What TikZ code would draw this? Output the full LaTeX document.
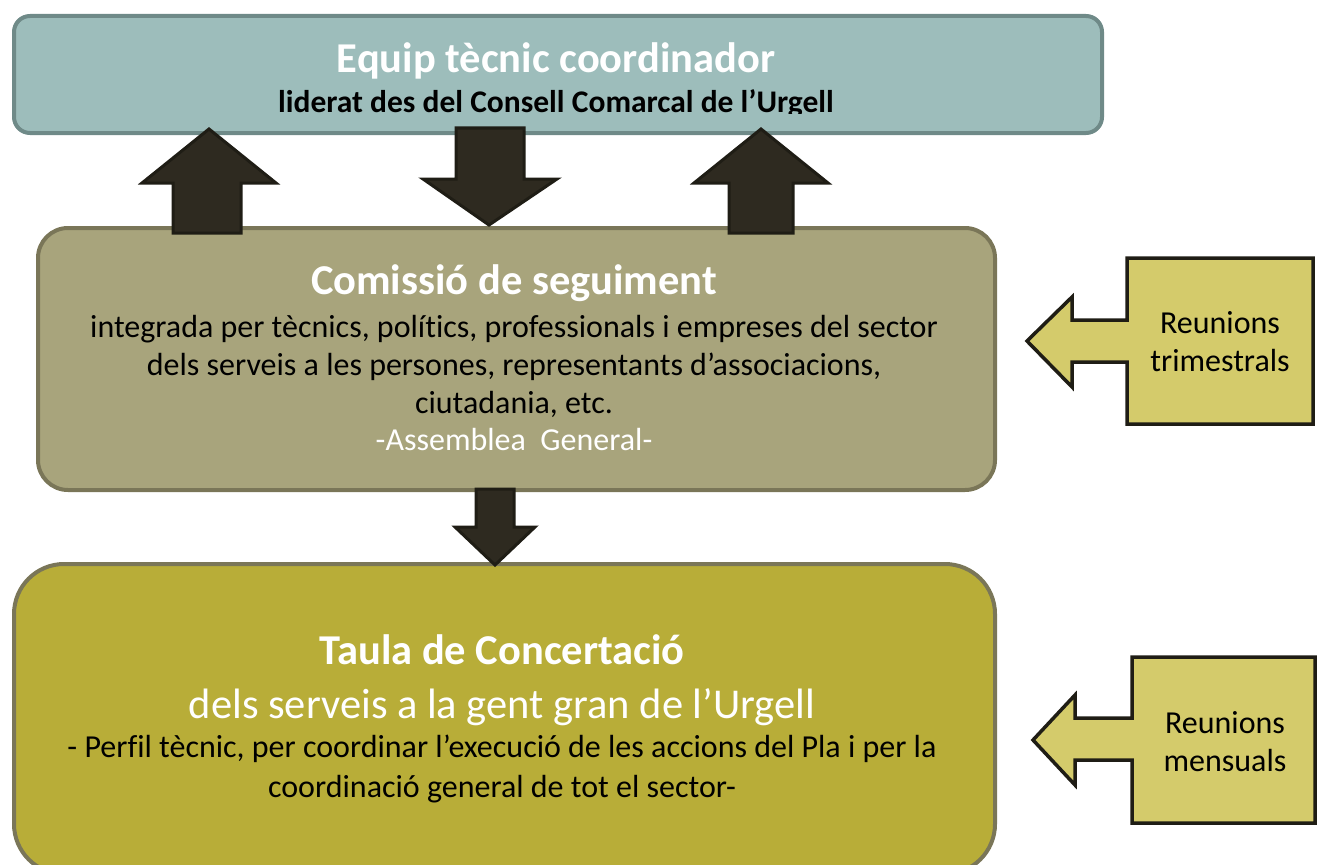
\documentclass[tikz,border=0pt]{standalone}
\usepackage{fontspec}
\setmainfont{Carlito}[Ligatures=NoCommon]
\definecolor{tealfill}{HTML}{9DBDBB}
\definecolor{tealline}{HTML}{6F8A88}
\definecolor{khakifill}{HTML}{A8A47C}
\definecolor{khakiline}{HTML}{7A7658}
\definecolor{olivefill}{HTML}{B8AD38}
\definecolor{calloutfill}{HTML}{D4CB6B}
\definecolor{arrowfill}{HTML}{2E2A20}
\definecolor{arrowline}{HTML}{1F1D15}
\tikzset{
  bigbox/.style={draw, line width=4pt, rounded corners=#1},
  blockarrow/.style={fill=arrowfill, draw=arrowline, line width=3pt, line join=miter},
  callout/.style={fill=calloutfill, draw=arrowline, line width=3.5pt, line join=miter},
  txt/.style={anchor=base, inner sep=0pt},
  titletxt/.style={txt, text=white, font=\fontsize{42.5}{46}\selectfont\bfseries},
  bodytxt/.style={txt, text=black, font=\fontsize{32}{36}\selectfont},
}
\begin{document}
\begin{tikzpicture}[x=1pt,y=-1pt]
\useasboundingbox (0,0) rectangle (1324,864);
% boxes
\node[bigbox=16pt, fill=tealfill, draw=tealline, minimum width=1088pt, minimum height=117pt, anchor=north west] (top) at (12,14) {};
\node[bigbox=30pt, fill=khakifill, draw=khakiline, minimum width=957pt, minimum height=262pt, anchor=north west] (mid) at (36,226) {};
\node[bigbox=50pt, fill=olivefill, draw=khakiline, minimum width=981pt, minimum height=310pt, anchor=north west] (bot) at (12,562) {};

% block arrows between top and middle
\draw[blockarrow] (173,233) -- (173,183) -- (142,183) -- (209,129) -- (276,183) -- (241,183) -- (241,233) -- cycle;
\draw[blockarrow] (456,128) -- (456,179) -- (423,179) -- (489,225) -- (557,179) -- (524,179) -- (524,128) -- cycle;
\draw[blockarrow] (729,233) -- (729,183) -- (694,183) -- (761,129) -- (828,183) -- (793,183) -- (793,233) -- cycle;
% arrow middle to bottom
\draw[blockarrow] (476,489) -- (476,527) -- (455,527) -- (495,565) -- (535,527) -- (514,527) -- (514,489) -- cycle;

% callouts
\draw[callout] (1127,258) -- (1313,258) -- (1313,424) -- (1127,424) -- (1127,362) -- (1072,362) -- (1072,387) -- (1027,341) -- (1072,297) -- (1072,320) -- (1127,320) -- cycle;
\draw[callout] (1132,657) -- (1315,657) -- (1315,823) -- (1132,823) -- (1132,760) -- (1075,760) -- (1075,785) -- (1033,740) -- (1075,695) -- (1075,718) -- (1132,718) -- cycle;

% top texts
\node[titletxt] (toptitle) at (556,73) {Equip tècnic coordinador};
\begin{scope}
\clip (12,14) rectangle (1100,114);
\node[txt, font=\fontsize{31.5}{36}\selectfont\bfseries] (topsub) at (556,113) {liderat des del Consell Comarcal de l’Urgell};
\end{scope}

% middle texts
\node[titletxt] (midtitle) at (514,294) {Comissió de seguiment};
\node[bodytxt] (mid1) at (514,337) {integrada per tècnics, polítics, professionals i empreses del sector};
\node[bodytxt] (mid2) at (514,375) {dels serveis a les persones, representants d’associacions,};
\node[bodytxt] (mid3) at (514,413) {ciutadania, etc.};
\node[bodytxt, text=white] (mid4) at (514,450) {-Assemblea\ \ General-};

% bottom texts
\node[titletxt] (bottitle) at (502,664) {Taula de Concertació};
\node[txt, text=white, font=\fontsize{42.5}{46}\selectfont] (botsub) at (502,718) {dels serveis a la gent gran de l’Urgell};
\node[bodytxt] (bot1) at (502,757) {- Perfil tècnic, per coordinar l’execució de les accions del Pla i per la};
\node[bodytxt] (bot2) at (502,797) {coordinació general de tot el sector-};

% callout texts
\node[bodytxt] (c1a) at (1220,333) {Reunions};
\node[bodytxt] (c1b) at (1220,371) {trimestrals};
\node[bodytxt] (c2a) at (1225,733) {Reunions};
\node[bodytxt] (c2b) at (1225,771) {mensuals};
\end{tikzpicture}
\end{document}
